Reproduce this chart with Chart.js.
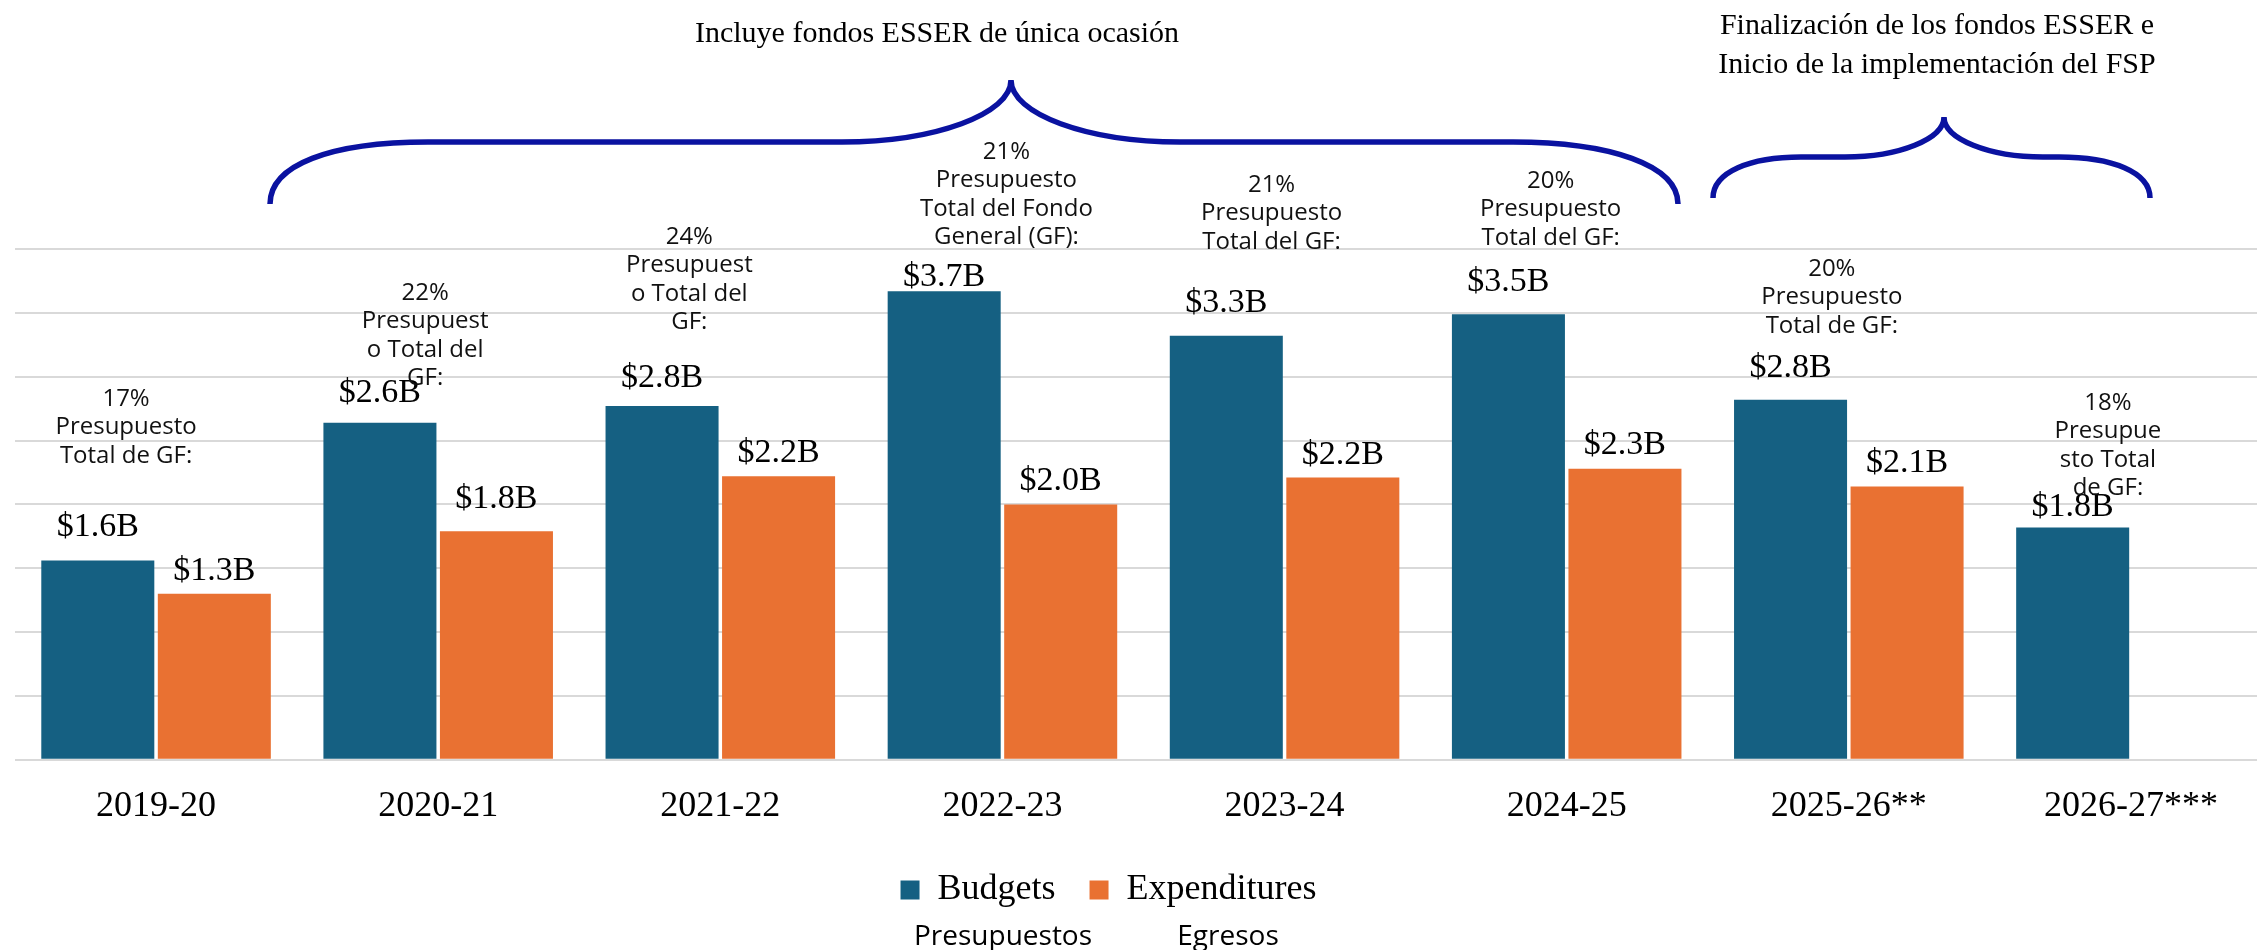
<!DOCTYPE html>
<html>
<head>
<meta charset="utf-8">
<script src="https://cdn.jsdelivr.net/npm/chart.js@4.4.1/dist/chart.umd.min.js"></script>
<style>
  html, body { margin: 0; padding: 0; background: #fff; overflow: hidden; }
  #wrap { width: 2272px; height: 950px; }
</style>
</head>
<body>
<div id="wrap"><canvas id="chartCanvas" width="2272" height="950"></canvas></div>
<script>
// chart values
var categories = ['2019-20', '2020-21', '2021-22', '2022-23', '2023-24', '2024-25', '2025-26**', '2026-27***'];
var budgets = [1.56, 2.64, 2.77, 3.67, 3.32, 3.49, 2.82, 1.82];
var expenditures = [1.30, 1.79, 2.22, 2.00, 2.21, 2.28, 2.14, null];
var seriesNames = ['Budgets', 'Expenditures'];
var seriesNamesEs = ['Presupuestos', 'Egresos'];
var yMax = 4;
var yStep = 0.5;

// share of General Fund notes above each year
var gfShareNotes = [
    ['17%', 'Presupuesto', 'Total de GF:'],
    ['22%', 'Presupuest', 'o Total del', 'GF:'],
    ['24%', 'Presupuest', 'o Total del', 'GF:'],
    ['21%', 'Presupuesto', 'Total del Fondo', 'General (GF):'],
    ['21%', 'Presupuesto', 'Total del GF:'],
    ['20%', 'Presupuesto', 'Total del GF:'],
    ['20%', 'Presupuesto', 'Total de GF:'],
    ['18%', 'Presupue', 'sto Total', 'de GF:']
];
var headingOne = ['Incluye fondos ESSER de única ocasión'];
var headingTwo = ['Finalización de los fondos ESSER e', 'Inicio de la implementación del FSP'];

// layout / style (kept apart from the data)
var blue = '#156082';
var orange = '#E97132';
var braceColor = '#0a12a0';
var serif = '"Liberation Serif", "Times New Roman", serif';
var sans = '"Open Sans", "Noto Sans", sans-serif';
var noteDx = [-30, -13, -31, 4, -13, -16, -17, -23];
var noteY = [399, 293, 237, 152, 185, 181, 269, 403];
var noteLineH = 28.5;
// how far each value label sits above its bar (px)
var labelLift = [
    [34, 30, 28, 14, 33, 32, 32, 20],
    [23, 32, 23, 23, 23, 24, 23, 0]
];
var legendShift = { x: -35, y: -15 };

//Draws value labels, notes, braces and headings
var decorPlugin = {
    id: 'decor',
    afterLayout: function (chart) {
        var lg = chart.legend;
        lg.left += legendShift.x;
        lg.right += legendShift.x;
        lg.top += legendShift.y;
        lg.bottom += legendShift.y;
    },
    afterDatasetsDraw: function (chart) {
        var ctx = chart.ctx;
        ctx.save();
        ctx.font = '34px ' + serif;
        ctx.fillStyle = '#000';
        ctx.textAlign = 'center';
        ctx.textBaseline = 'middle';
        chart.data.datasets.forEach(function (ds, di) {
            var meta = chart.getDatasetMeta(di);
            meta.data.forEach(function (bar, i) {
                var v = ds.data[i];
                if (v === null) return;
                ctx.fillText('$' + v.toFixed(1) + 'B', bar.x, bar.y - labelLift[di][i]);
            });
        });
        ctx.restore();
    },
    afterDraw: function (chart) {
        var ctx = chart.ctx;
        var xs = chart.scales.x;
        ctx.save();

        //notes
        ctx.font = '24px ' + sans;
        ctx.fillStyle = '#111';
        ctx.textAlign = 'center';
        ctx.textBaseline = 'middle';
        gfShareNotes.forEach(function (lines, i) {
            var cx = xs.getPixelForValue(i) + noteDx[i];
            lines.forEach(function (t, k) {
                ctx.fillText(t, cx, noteY[i] + k * noteLineH);
            });
        });

        //braces
        ctx.strokeStyle = braceColor;
        ctx.lineWidth = 5.5;
        ctx.beginPath();
        ctx.moveTo(270, 204);
        ctx.bezierCurveTo(270, 165, 330, 142, 428, 142);
        ctx.lineTo(842, 142);
        ctx.bezierCurveTo(935, 142, 1011, 114, 1011, 80);
        ctx.bezierCurveTo(1011, 114, 1087, 142, 1180, 142);
        ctx.lineTo(1513, 142);
        ctx.bezierCurveTo(1610, 142, 1678, 165, 1678, 204);
        ctx.stroke();

        ctx.beginPath();
        ctx.moveTo(1713, 198);
        ctx.bezierCurveTo(1713, 172, 1750, 157, 1801, 157);
        ctx.lineTo(1845, 157);
        ctx.bezierCurveTo(1899, 157, 1944, 139, 1944, 117);
        ctx.bezierCurveTo(1944, 139, 1989, 157, 2043, 157);
        ctx.lineTo(2059, 157);
        ctx.bezierCurveTo(2112, 157, 2150, 172, 2150, 198);
        ctx.stroke();

        //headings
        ctx.font = '30px ' + serif;
        ctx.fillStyle = '#000';
        ctx.textBaseline = 'alphabetic';
        ctx.fillText(headingOne[0], 937, 42);
        ctx.fillText(headingTwo[0], 1937, 34);
        ctx.fillText(headingTwo[1], 1937, 73);

        //spanish names under the legend
        ctx.font = '28px ' + sans;
        var boxes = chart.legend.legendHitBoxes;
        boxes.forEach(function (b, i) {
            ctx.fillText(seriesNamesEs[i], b.left + b.width / 2 + 25, b.top + b.height / 2 + 55);
        });
        ctx.restore();
    }
};

var canvasChart = document.getElementById('chartCanvas');
var mychart = new Chart(canvasChart, {
    type: 'bar',
    data: {
        labels: categories,
        datasets: [{
            label: seriesNames[0],
            data: budgets,
            backgroundColor: blue,
            categoryPercentage: 0.826,
            barPercentage: 0.97
        }, {
            label: seriesNames[1],
            data: expenditures,
            backgroundColor: orange,
            categoryPercentage: 0.826,
            barPercentage: 0.97
        }]
    },
    options: {
        responsive: false,
        animation: false,
        devicePixelRatio: 1,
        layout: { padding: { top: 249, left: 15, right: 0, bottom: 17 } },
        scales: {
            x: {
                grid: { display: false, drawTicks: false },
                border: { display: false },
                ticks: {
                    color: '#000',
                    font: { family: serif, size: 36 },
                    padding: 25,
                    maxRotation: 0,
                    autoSkip: false
                }
            },
            y: {
                min: 0,
                max: yMax,
                ticks: { display: false, stepSize: yStep },
                grid: { color: '#d9d9d9', lineWidth: 2, drawTicks: false },
                border: { display: false }
            }
        },
        plugins: {
            legend: {
                position: 'bottom',
                labels: {
                    color: '#000',
                    font: { family: serif, size: 36 },
                    boxWidth: 19,
                    boxHeight: 19,
                    padding: 34
                }
            },
            tooltip: { enabled: false }
        }
    },
    plugins: [decorPlugin]
});
</script>
</body>
</html>
